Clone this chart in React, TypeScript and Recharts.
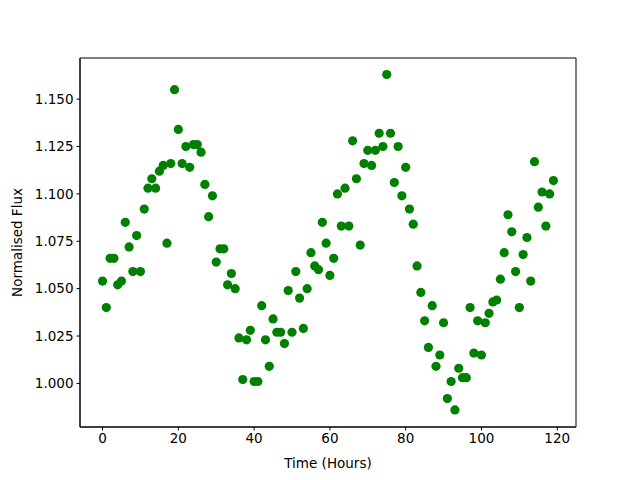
import {
  ScatterChart,
  Scatter,
  XAxis,
  YAxis,
  ReferenceArea,
  Label,
} from "recharts"

// one reading per hour, 0..119
const hours: number[] = Array.from({ length: 120 }, (_, i) => i)

const flux: number[] = [
  1.054, 1.04, 1.066, 1.066, 1.052, 1.054, 1.085, 1.072, 1.059, 1.078,
  1.059, 1.092, 1.103, 1.108, 1.103, 1.112, 1.115, 1.074, 1.116, 1.155,
  1.134, 1.116, 1.125, 1.114, 1.126, 1.126, 1.122, 1.105, 1.088, 1.099,
  1.064, 1.071, 1.071, 1.052, 1.058, 1.05, 1.024, 1.002, 1.023, 1.028,
  1.001, 1.001, 1.041, 1.023, 1.009, 1.034, 1.027, 1.027, 1.021, 1.049,
  1.027, 1.059, 1.045, 1.029, 1.05, 1.069, 1.062, 1.06, 1.085, 1.074,
  1.057, 1.066, 1.1, 1.083, 1.103, 1.083, 1.128, 1.108, 1.073, 1.116,
  1.123, 1.115, 1.123, 1.132, 1.125, 1.163, 1.132, 1.106, 1.125, 1.099,
  1.114, 1.092, 1.084, 1.062, 1.048, 1.033, 1.019, 1.041, 1.009, 1.015,
  1.032, 0.992, 1.001, 0.986, 1.008, 1.003, 1.003, 1.04, 1.016, 1.033,
  1.015, 1.032, 1.037, 1.043, 1.044, 1.055, 1.069, 1.089, 1.08, 1.059,
  1.04, 1.068, 1.077, 1.054, 1.117, 1.093, 1.101, 1.083, 1.1, 1.107,
]

const xTicks = [0, 20, 40, 60, 80, 100, 120]
const yTicks = [1.0, 1.025, 1.05, 1.075, 1.1, 1.125, 1.15]

const xDomain: [number, number] = [-5.95, 124.95]
const yDomain: [number, number] = [0.977, 1.1717]

const points = hours.map((h, i) => ({ hour: h, flux: flux[i] }))

const font = "DejaVu Sans, sans-serif"
const tickStyle = { fontSize: 13.5, fill: "#000", fontFamily: font }

const Dot = (props: any) => (
  <circle cx={props.cx} cy={props.cy} r={4.6} fill="#008000" />
)

export default function App() {
  return (
    <div style={{ position: "fixed", left: 0, top: 0, background: "#fff" }}>
      <ScatterChart
        width={640}
        height={480}
        margin={{ top: 58, right: 64, bottom: 23, left: 20 }}
      >
        <XAxis
          type="number"
          dataKey="hour"
          domain={xDomain}
          ticks={xTicks}
          height={30}
          tick={tickStyle}
          tickSize={3.5}
          tickMargin={3}
          tickLine={{ stroke: "#000" }}
          axisLine={{ stroke: "#000" }}
          allowDataOverflow
        >
          <Label
            value="Time (Hours)"
            position="insideBottom"
            offset={-11}
            style={{ fontSize: 13.5, fill: "#000", fontFamily: font }}
          />
        </XAxis>
        <YAxis
          type="number"
          dataKey="flux"
          domain={yDomain}
          ticks={yTicks}
          width={60}
          tick={tickStyle}
          tickSize={3.5}
          tickMargin={3}
          tickLine={{ stroke: "#000" }}
          axisLine={{ stroke: "#000" }}
          tickFormatter={(v: number) => v.toFixed(3)}
          allowDataOverflow
        >
          <Label
            value="Normalised Flux"
            angle={-90}
            position="insideLeft"
            offset={-3}
            style={{
              fontSize: 13.5,
              fill: "#000",
              fontFamily: font,
              textAnchor: "middle",
            }}
          />
        </YAxis>
        <ReferenceArea
          x1={xDomain[0]}
          x2={xDomain[1]}
          y1={yDomain[0]}
          y2={yDomain[1]}
          fill="none"
          stroke="#000"
          strokeWidth={1}
          ifOverflow="visible"
        />
        <Scatter
          data={points}
          shape={Dot}
          isAnimationActive={false}
        />
      </ScatterChart>
    </div>
  )
}
